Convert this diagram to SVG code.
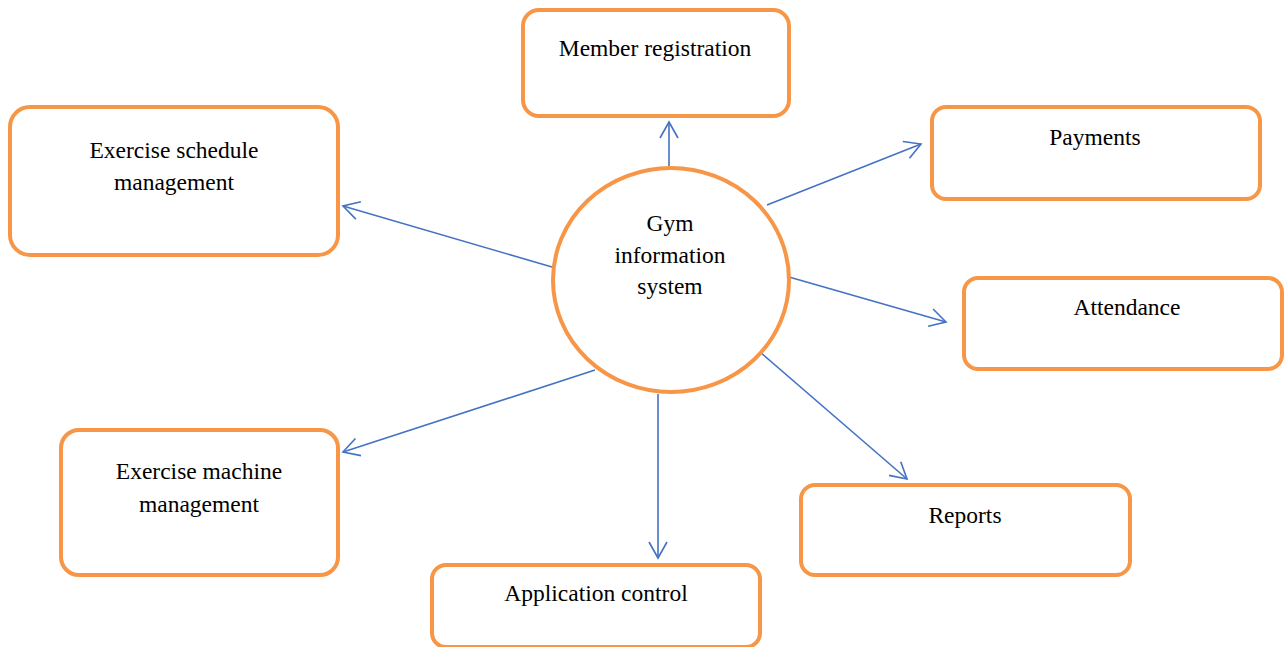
<svg xmlns="http://www.w3.org/2000/svg" width="1285" height="647" viewBox="0 0 1285 647">
<style>
.box{fill:#fff;stroke:#F79646;stroke-width:4}
.t{font-family:"Liberation Serif","Times New Roman",serif;font-size:23.5px;fill:#000;text-anchor:middle}
.c{stroke:#4472C4;stroke-width:1.6;fill:none;marker-end:url(#ah)}
</style>
<defs>
<marker id="ah" markerUnits="userSpaceOnUse" markerWidth="20" markerHeight="20" viewBox="-17 -10 19 20" refX="0" refY="0" orient="auto">
<path d="M-16,-9 L0,0 L-16,9" fill="none" stroke="#4472C4" stroke-width="1.6"/>
</marker>
</defs>
<rect width="1285" height="647" fill="#fff"/>
<g id="connectors">
<line class="c" x1="669" y1="166" x2="669" y2="122"/>
<line class="c" x1="767" y1="205" x2="921" y2="144"/>
<line class="c" x1="789" y1="277" x2="946" y2="322"/>
<line class="c" x1="760" y1="352" x2="907" y2="479"/>
<line class="c" x1="658" y1="394" x2="658" y2="558"/>
<line class="c" x1="595" y1="370" x2="343" y2="452"/>
<line class="c" x1="552" y1="267" x2="343" y2="206"/>
</g>
<g id="center">
<ellipse class="box" cx="671" cy="280" rx="118" ry="112"/>
<text class="t" x="670" y="231">Gym</text>
<text class="t" x="670" y="263">information</text>
<text class="t" x="670" y="294">system</text>
</g>
<g id="member">
<rect class="box" x="523" y="10" width="266" height="106" rx="16"/>
<text class="t" x="655" y="56">Member registration</text>
</g>
<g id="payments">
<rect class="box" x="932" y="107" width="328" height="92" rx="14"/>
<text class="t" x="1095" y="145">Payments</text>
</g>
<g id="attendance">
<rect class="box" x="964" y="278" width="318" height="91" rx="14"/>
<text class="t" x="1127" y="315">Attendance</text>
</g>
<g id="reports">
<rect class="box" x="801" y="485" width="329" height="90" rx="14"/>
<text class="t" x="965" y="523">Reports</text>
</g>
<g id="application">
<rect class="box" x="432" y="565" width="328" height="82" rx="14"/>
<text class="t" x="596" y="601">Application control</text>
</g>
<g id="machine">
<rect class="box" x="61" y="430" width="277" height="145" rx="18"/>
<text class="t" x="199" y="479">Exercise machine</text>
<text class="t" x="199" y="512">management</text>
</g>
<g id="schedule">
<rect class="box" x="10" y="107" width="328" height="148" rx="20"/>
<text class="t" x="174" y="158">Exercise schedule</text>
<text class="t" x="174" y="190">management</text>
</g>
</svg>
